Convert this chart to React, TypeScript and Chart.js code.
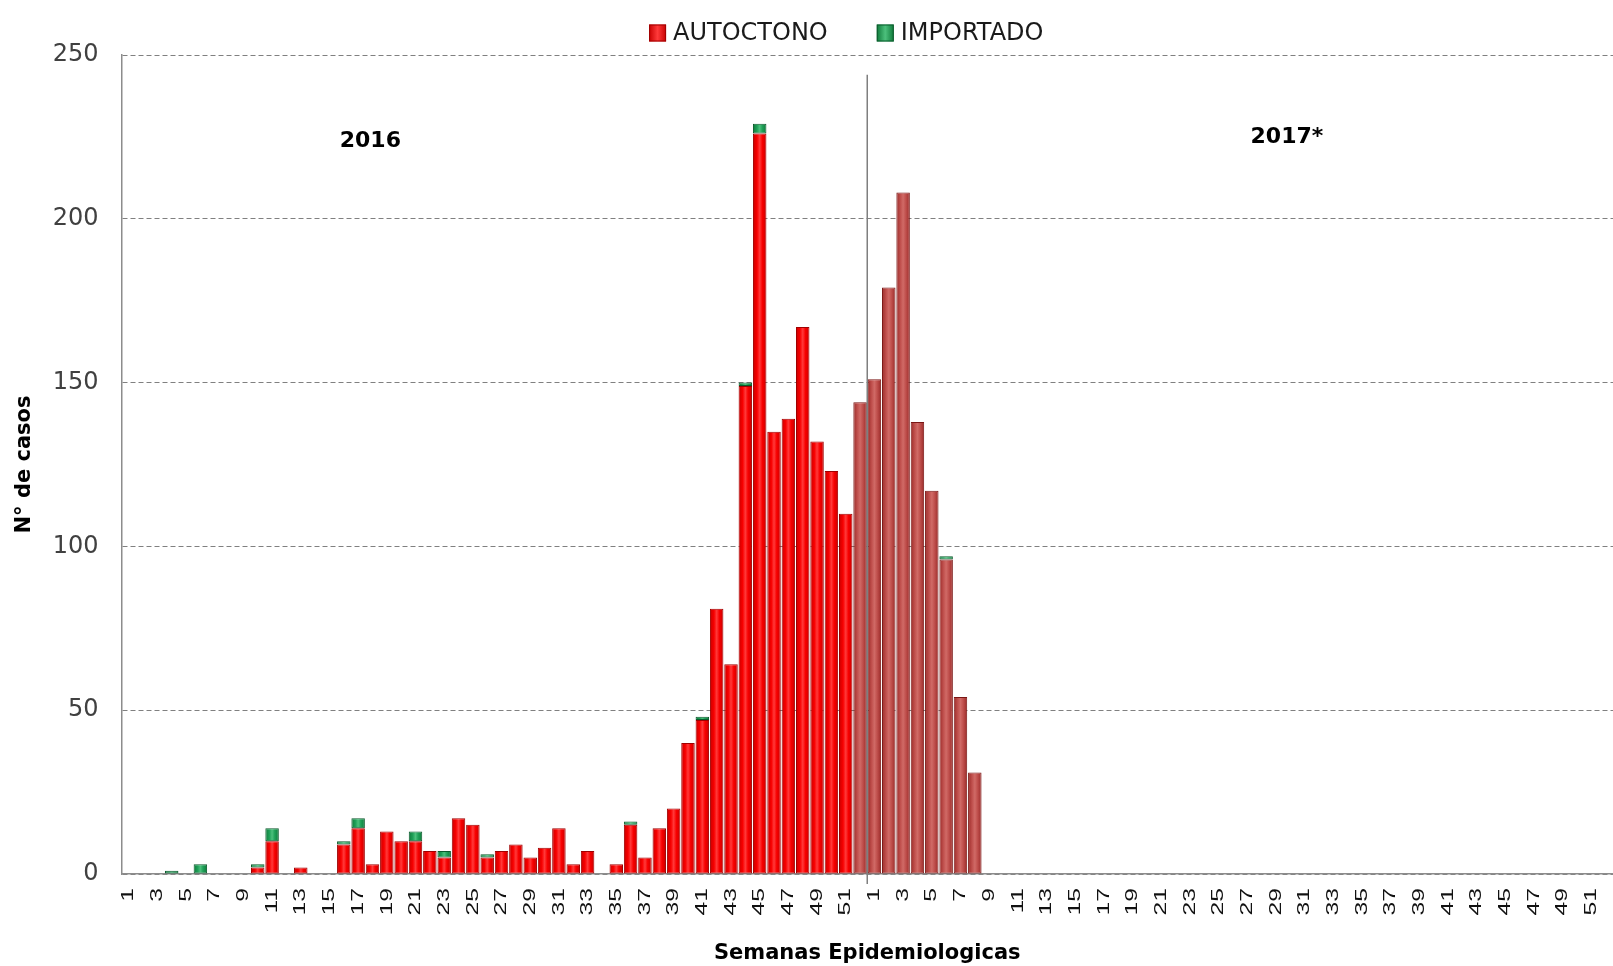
import React, { useEffect, useRef } from "react";
import { Chart, registerables } from "chart.js";

Chart.register(...registerables);

const WEEKS = [
  "1", "2", "3", "4", "5", "6", "7", "8", "9", "10", "11", "12", "13",
  "14", "15", "16", "17", "18", "19", "20", "21", "22", "23", "24", "25", "26",
  "27", "28", "29", "30", "31", "32", "33", "34", "35", "36", "37", "38", "39",
  "40", "41", "42", "43", "44", "45", "46", "47", "48", "49", "50", "51", "52",
];
const CATEGORIES = [...WEEKS, ...WEEKS];
const SERIES_NAMES = ["AUTOCTONO", "IMPORTADO"];
const YEAR_LABELS = ["2016", "2017*"];

const AUTOCTONO_2016 = [
  0, 0, 0, 0, 0, 0, 0, 0, 0, 2, 10, 0, 2,
  0, 0, 9, 14, 3, 13, 10, 10, 7, 5, 17, 15, 5,
  7, 9, 5, 8, 14, 3, 7, 0, 3, 15, 5, 14, 20,
  40, 47, 81, 64, 149, 226, 135, 139, 167, 132, 123, 110, 144,
];
const IMPORTADO_2016 = [
  0, 0, 0, 1, 0, 3, 0, 0, 0, 1, 4, 0, 0,
  0, 0, 1, 3, 0, 0, 0, 3, 0, 2, 0, 0, 1,
  0, 0, 0, 0, 0, 0, 0, 0, 0, 1, 0, 0, 0,
  0, 1, 0, 0, 1, 3, 0, 0, 0, 0, 0, 0, 0,
];
const AUTOCTONO_2017 = [
  151, 179, 208, 138, 117, 96, 54, 31, 0, 0, 0, 0, 0,
  0, 0, 0, 0, 0, 0, 0, 0, 0, 0, 0, 0, 0,
  0, 0, 0, 0, 0, 0, 0, 0, 0, 0, 0, 0, 0,
  0, 0, 0, 0, 0, 0, 0, 0, 0, 0, 0, 0, 0,
];
const IMPORTADO_2017 = [
  0, 0, 0, 0, 0, 1, 0, 0, 0, 0, 0, 0, 0,
  0, 0, 0, 0, 0, 0, 0, 0, 0, 0, 0, 0, 0,
  0, 0, 0, 0, 0, 0, 0, 0, 0, 0, 0, 0, 0,
  0, 0, 0, 0, 0, 0, 0, 0, 0, 0, 0, 0, 0,
];
const Y_MIN = 0;
const Y_MAX = 250;
const Y_STEP = 50;

const BAR_PCT = 0.94;
// [edge, mid, highlight, border]
const RED_A = ["#c80000", "#f80000", "#ff3a3a", "#a00000"];
const RED_B = ["#9a2a28", "#c0504d", "#d06a66", "#7a1614"];
const GREEN = ["#0f7a3a", "#1fa058", "#4cc07c", "#0b5a2c"];

function barFill(c: any, pal: string[]) {
  const chart = c.chart;
  const x = chart.scales && chart.scales.x;
  if (!x || c.type !== "data" || !chart.chartArea) return pal[1];
  const cx = x.getPixelForValue(c.dataIndex);
  const w = (x.width / CATEGORIES.length) * BAR_PCT;
  const g = chart.ctx.createLinearGradient(cx - w / 2, 0, cx + w / 2, 0);
  g.addColorStop(0, pal[0]);
  g.addColorStop(0.3, pal[1]);
  g.addColorStop(0.5, pal[2]);
  g.addColorStop(0.7, pal[1]);
  g.addColorStop(1, pal[0]);
  return g;
}

const overlayPlugin = {
  id: "overlay",
  afterDatasetsDraw(chart: any) {
    const { ctx, scales } = chart;
    const x = scales.x;
    const y = scales.y;
    const sepX = (x.getPixelForValue(51) + x.getPixelForValue(52)) / 2;
    ctx.save();
    ctx.strokeStyle = "#7f7f7f";
    ctx.lineWidth = 1.5;
    ctx.beginPath();
    ctx.moveTo(sepX, y.getPixelForValue(244));
    ctx.lineTo(sepX, y.bottom + 10);
    ctx.stroke();

    ctx.fillStyle = "#000";
    ctx.textAlign = "center";
    ctx.textBaseline = "middle";
    ctx.font = 'bold 22px "DejaVu Sans"';
    ctx.fillText(YEAR_LABELS[0], x.getPixelForValue(16.85), y.getPixelForValue(223.7));
    ctx.fillText(YEAR_LABELS[1], x.getPixelForValue(80.76), y.getPixelForValue(225));
    ctx.restore();
  },
  afterDraw(chart: any) {
    const { ctx, chartArea, scales } = chart;
    const x = scales.x;
    // rotated week labels (every other week), reading bottom-to-top
    ctx.save();
    ctx.font = '17px "Liberation Sans"';
    ctx.fillStyle = "#111";
    ctx.textAlign = "right";
    ctx.textBaseline = "middle";
    const ty = x.top + 14;
    CATEGORIES.forEach((lab, i) => {
      if (i % 2 !== 0) return;
      ctx.save();
      ctx.translate(x.getPixelForValue(i), ty);
      ctx.rotate(-Math.PI / 2);
      ctx.scale(1.45, 1);
      ctx.fillText(lab, 0, 0);
      ctx.restore();
    });
    ctx.restore();

    // legend
    ctx.save();
    ctx.font = '24px "DejaVu Sans"';
    ctx.textBaseline = "middle";
    ctx.textAlign = "left";
    const box = 17;
    const gap = 7;
    const itemGap = 49;
    const colors = [RED_A, GREEN];
    const widths = SERIES_NAMES.map((n) => box + gap + ctx.measureText(n).width);
    const total = widths.reduce((a, b) => a + b, 0) + itemGap * (widths.length - 1);
    const cx = (chartArea.left + chartArea.right) / 2 - 21;
    let px = cx - total / 2;
    const cy = 33;
    SERIES_NAMES.forEach((name, i) => {
      const pal = colors[i];
      const g = ctx.createLinearGradient(px, 0, px + box, 0);
      g.addColorStop(0, pal[0]);
      g.addColorStop(0.5, pal[2]);
      g.addColorStop(1, pal[0]);
      ctx.fillStyle = g;
      ctx.fillRect(px, cy - box / 2, box, box);
      ctx.strokeStyle = pal[3];
      ctx.lineWidth = 1;
      ctx.strokeRect(px + 0.5, cy - box / 2 + 0.5, box - 1, box - 1);
      ctx.fillStyle = "#1a1a1a";
      ctx.fillText(name, px + box + gap, cy + 1);
      px += widths[i] + itemGap;
    });
    ctx.restore();
  },
};

export default function App() {
  const canvasRef = useRef<HTMLCanvasElement | null>(null);

  useEffect(() => {
    if (!canvasRef.current) return;
    const autoctono = [...AUTOCTONO_2016, ...AUTOCTONO_2017];
    const importado = [...IMPORTADO_2016, ...IMPORTADO_2017];
    const chart = new Chart(canvasRef.current, {
      type: "bar",
      data: {
        labels: CATEGORIES,
        datasets: [
          {
            label: SERIES_NAMES[0],
            data: autoctono,
            backgroundColor: (c: any) => barFill(c, c.dataIndex >= 51 ? RED_B : RED_A),
            borderColor: (c: any) => (c.dataIndex >= 51 ? RED_B[3] : RED_A[3]),
            borderWidth: 1,
            borderSkipped: false,
            barPercentage: BAR_PCT,
            categoryPercentage: 1.0,
            stack: "s",
          },
          {
            label: SERIES_NAMES[1],
            data: importado,
            backgroundColor: (c: any) => barFill(c, GREEN),
            borderColor: GREEN[3],
            borderWidth: 1,
            borderSkipped: false,
            barPercentage: BAR_PCT,
            categoryPercentage: 1.0,
            stack: "s",
          },
        ],
      },
      options: {
        responsive: true,
        maintainAspectRatio: false,
        animation: false,
        devicePixelRatio: 1,
        layout: { padding: { top: 55, left: 0, right: 0, bottom: 0 } },
        plugins: {
          legend: { display: false },
          tooltip: { enabled: false },
        },
        scales: {
          x: {
            type: "category",
            stacked: true,
            grid: { display: false, drawTicks: false },
            border: { display: true, color: "#8c8c8c", width: 1.5 },
            ticks: { display: false },
            title: {
              display: true,
              text: "Semanas Epidemiologicas",
              color: "#000",
              font: { family: '"DejaVu Sans"', size: 21, weight: "bold" },
              padding: { top: 0, bottom: 0 },
            },
            afterFit: (s: any) => {
              s.height = 92;
              s.paddingLeft = 0;
              s.paddingRight = 0;
            },
          },
          y: {
            stacked: true,
            min: Y_MIN,
            max: Y_MAX,
            ticks: {
              stepSize: Y_STEP,
              padding: 23,
              color: "#404040",
              font: { family: '"DejaVu Sans"', size: 24 },
            },
            grid: { color: "#808080", lineWidth: 1, drawTicks: false },
            border: { display: true, color: "#8c8c8c", width: 1.5, dash: [5, 3] },
            title: {
              display: true,
              text: "N° de casos",
              color: "#000",
              font: { family: '"DejaVu Sans"', size: 21, weight: "bold" },
              padding: { top: 12, bottom: 0 },
            },
            afterFit: (s: any) => {
              s.width = 121.5;
            },
          },
        },
      },
      plugins: [overlayPlugin],
    });
    return () => chart.destroy();
  }, []);

  return (
    <div style={{ position: "absolute", left: 0, top: 0, width: 1613, height: 966, background: "#fff" }}>
      <canvas ref={canvasRef} />
    </div>
  );
}
